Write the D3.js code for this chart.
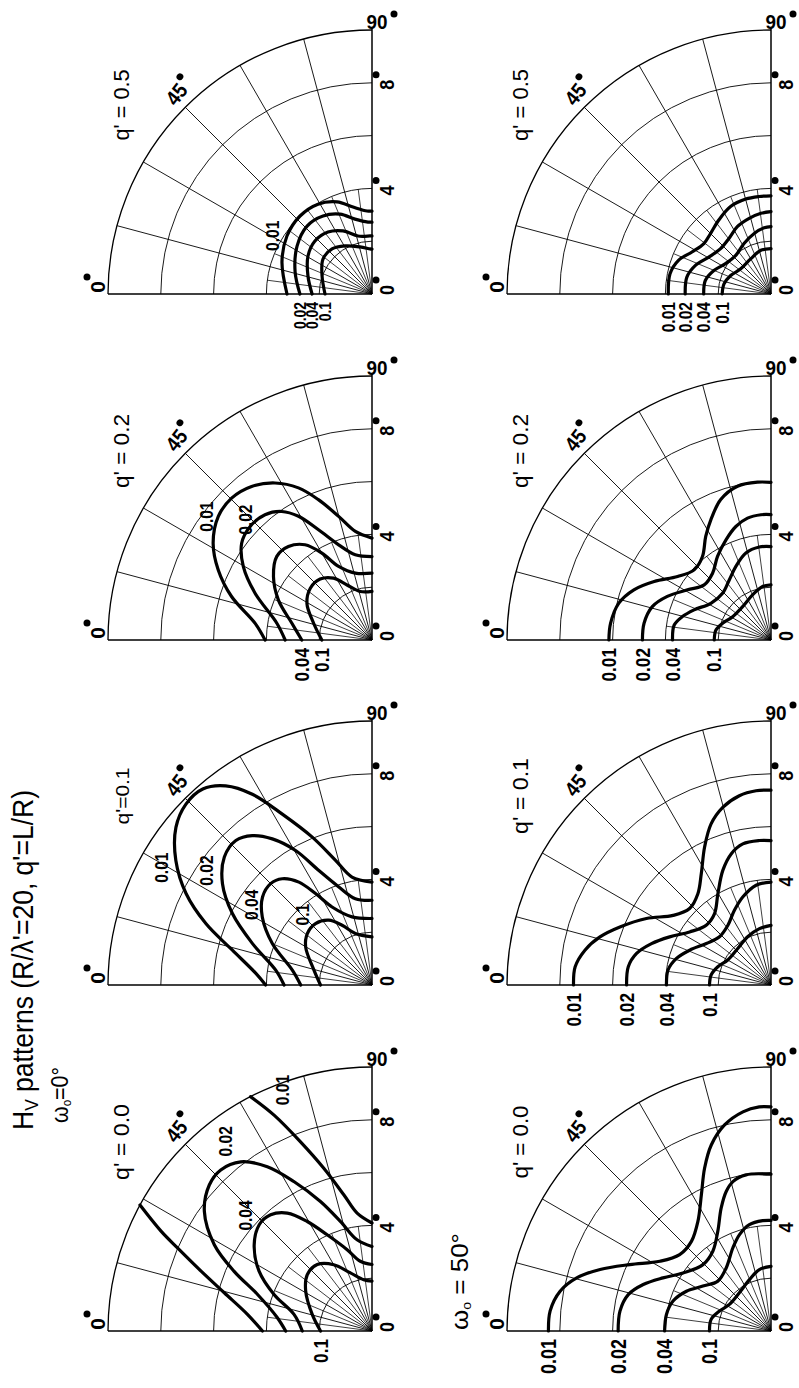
<!DOCTYPE html>
<html>
<head>
<meta charset="utf-8">
<script src="https://cdn.jsdelivr.net/npm/d3@7/dist/d3.min.js"></script>
<style>
html,body{margin:0;padding:0;background:#fff;}
svg{display:block;}
text{font-family:"Liberation Sans",Arial,sans-serif;fill:#000;}
.grid{fill:none;stroke:#000;stroke-width:0.9;}
.fine{fill:none;stroke:#000;stroke-width:0.75;}
.outer{fill:none;stroke:#000;stroke-width:1.3;}
.axis{fill:none;stroke:#000;stroke-width:1.5;}
.curve{fill:none;stroke:#000;stroke-width:3.2;stroke-linecap:round;stroke-linejoin:round;}
</style>
</head>
<body>
<svg id="chart" width="799" height="1388" viewBox="0 0 799 1388"></svg>
<script>
// ---------------- categories / ticks ----------------
const contourLevels = ["0.01", "0.02", "0.04", "0.1"];
const qPrimeValues = ["0.0", "0.1", "0.2", "0.5"];
const omegaValues = ["0°", "50°"];
const radialTicks = [0, 4, 8];
const gridRadii = [2, 4, 6, 8, 10];
const spokeAngles = [15, 30, 45, 60, 75];
const fineSpokeAngles = [7.5, 22.5, 37.5, 52.5, 67.5, 82.5];
const fineSpokeLength = 4;

// ---------------- series: [theta (deg), r] per contour level ----------------
// omega0 = 0°
const hv_w0_q00 = [
  [[0,4.15],[7.6,4.76],[14.5,5.78],[19.3,6.86],[23.1,8.0],[25.3,8.83],[28.5,10.0],null,[62.6,10.0],[65.6,8.98],[69.3,7.66],[73.5,6.43],[78.3,5.27],[82.8,4.5],[90,4.09]],
  [[0,3.27],[8,3.62],[17.7,4.55],[23.4,5.69],[28.7,6.81],[35.5,7.8],[41.9,8.28],[46.8,8.37],[52.2,8.11],[57.5,7.38],[62.4,6.39],[68.3,5.28],[73.9,4.32],[80.7,3.5],[90,3.2]],
  [[0,2.64],[12,3.02],[20.4,3.96],[27.9,4.84],[36.2,5.53],[43.3,5.87],[48.9,5.84],[54.3,5.5],[59.4,4.82],[65,4.02],[73,3.22],[80.5,2.68],[90,2.52]],
  [[0,1.95],[15.5,2.35],[31,2.93],[41,3.25],[50.5,3.26],[60,2.9],[69.6,2.35],[80.8,1.97],[90,1.89]]
];
const hv_w0_q01 = [
  [[0,4.03],[5.7,4.42],[14,5.45],[20.3,6.71],[26.2,7.85],[32.4,8.8],[38.8,9.53],[44.2,9.83],[49.2,9.81],[53.7,9.36],[57.9,8.53],[62.3,7.31],[68,6.04],[73.7,4.92],[79.5,4.16],[90,3.9]],
  [[0,3.33],[8.8,3.69],[19.1,4.79],[27.1,5.94],[34.1,6.84],[40.9,7.4],[46.7,7.52],[51.3,7.25],[55.7,6.7],[60.4,5.86],[65.1,4.78],[71.3,3.92],[79.1,3.33],[90,3.21]],
  [[0,2.7],[10.6,3.07],[22.6,4.09],[31.8,4.89],[38.8,5.32],[45,5.43],[49.8,5.27],[54.6,4.78],[58.3,4.07],[62.9,3.32],[73.7,2.69],[90,2.52]],
  [[0,1.95],[14.4,2.27],[29.9,2.9],[38.5,3.13],[47.4,3.16],[56.3,2.95],[63.4,2.53],[72.1,2.05],[90,1.82]]
];
const hv_w0_q02 = [
  [[0,4.05],[8.1,4.47],[17.2,5.57],[24.5,6.4],[31.4,7.05],[38.8,7.47],[45.3,7.56],[51.9,7.39],[58.3,6.99],[64.2,6.4],[69.1,5.69],[74.9,4.85],[81.3,4.16],[90,3.86]],
  [[0,3.29],[10,3.66],[21.8,4.77],[29.7,5.61],[36.6,6.15],[43,6.31],[49.5,6.24],[54.9,5.95],[59.3,5.45],[64.1,4.64],[70.7,3.82],[78.9,3.29],[90,3.16]],
  [[0,2.66],[11.8,3.1],[23.2,3.86],[32.8,4.44],[41.3,4.8],[48.2,4.75],[54.9,4.41],[60,3.8],[65.6,3.06],[76,2.61],[90,2.53]],
  [[0,1.9],[16,2.3],[29.4,2.83],[40,3.05],[49.6,3.03],[58.1,2.76],[65.6,2.29],[76.4,1.89],[90,1.84]]
];
const hv_w0_q05 = [
  [[0,3.22],[19.6,3.62],[34.3,3.9],[47.3,4.02],[59,3.97],[69.2,3.73],[77.7,3.37],[86.6,3.15],[90,3.14]],
  [[0,2.73],[16,3.03],[32.6,3.37],[46.3,3.56],[57.9,3.49],[68.2,3.26],[77.2,2.91],[86.8,2.73],[90,2.72]],
  [[0,2.27],[15.7,2.52],[30.7,2.82],[42.9,2.95],[54.6,2.88],[65.3,2.63],[76.4,2.26],[88,2.2],[90,2.2]],
  [[0,1.78],[19.8,2.01],[35.5,2.28],[48.4,2.28],[60.6,2.09],[75.7,1.84],[87.5,1.71],[90,1.7]]
];
// omega0 = 50°
const hv_w50_q00 = [
  [[0,8.43],[5.2,8.4],[10.7,8.13],[15.3,7.63],[19.8,6.88],[25.2,5.91],[32.1,4.97],[39.9,4.51],[48.4,4.54],[56.3,4.99],[62.9,5.79],[67.8,6.66],[72.2,7.4],[77.3,8.0],[82.7,8.37],[87,8.5],[90,8.49]],
  [[0,5.79],[7.5,5.77],[14.3,5.58],[20,5.15],[26.2,4.56],[33.4,3.99],[44.3,3.6],[53.9,3.74],[61.9,4.28],[67.9,5.02],[72.2,5.55],[75.7,5.84],[80.9,5.99],[90,5.94]],
  [[0,4.03],[9,4.01],[17,3.88],[25.2,3.54],[33.4,3.09],[43.2,2.76],[54.6,2.93],[65.3,3.46],[71.9,3.84],[78.5,4.11],[85.7,4.19],[90,4.19]],
  [[0,2.33],[11,2.31],[21.2,2.09],[32.6,1.87],[50.4,1.88],[67.2,2.11],[79.3,2.37],[90,2.45]]
];
const hv_w50_q01 = [
  [[0,7.48],[5.3,7.45],[10.6,7.17],[15.7,6.73],[21,6.13],[28.1,5.35],[35.4,4.55],[43.2,4.23],[51.3,4.43],[57.9,4.97],[64.3,5.8],[69.6,6.51],[74.8,6.97],[80.5,7.27],[85.6,7.38],[90,7.38]],
  [[0,5.47],[7.3,5.45],[13.2,5.23],[19.1,4.79],[25.4,4.25],[33.1,3.68],[42.7,3.34],[51.7,3.45],[59.8,4.0],[67.2,4.71],[73.1,5.19],[78.7,5.45],[85.4,5.49],[90,5.47]],
  [[0,3.96],[8.3,3.94],[15.7,3.72],[23.2,3.35],[32.7,2.91],[43.1,2.67],[54.2,2.79],[63.9,3.15],[72.2,3.5],[81.5,3.82],[90,3.9]],
  [[0,2.33],[9.5,2.3],[19,2.13],[30,1.89],[47.7,1.87],[64.2,2.03],[78.4,2.18],[90,2.26]]
];
const hv_w50_q02 = [
  [[0,6.14],[5.9,6.11],[13.6,5.93],[20.1,5.53],[26.6,4.95],[34.2,4.28],[42.4,3.94],[50.6,4.09],[57.8,4.64],[63.4,5.09],[70.3,5.65],[77.7,5.96],[85.2,6.0],[90,5.97]],
  [[0,4.87],[7.5,4.85],[15.7,4.67],[22.8,4.26],[31,3.69],[39.5,3.28],[48.8,3.36],[57.4,3.76],[65.8,4.16],[72.8,4.5],[79.1,4.7],[85.4,4.76],[90,4.75]],
  [[0,3.73],[8.8,3.71],[14.8,3.47],[21.4,3.13],[31.4,2.67],[44,2.55],[55.2,2.77],[64.5,3.09],[73.9,3.43],[82.8,3.55],[90,3.54]],
  [[0,2.15],[10.3,2.12],[19,1.94],[31.3,1.7],[49.6,1.66],[67.8,1.85],[81.1,2.05],[90,2.09]]
];
const hv_w50_q05 = [
  [[0,3.89],[11.3,3.9],[20,3.73],[28,3.39],[36.9,3.18],[45,3.24],[54.8,3.43],[65.2,3.65],[75.1,3.72],[83.1,3.72],[90,3.72]],
  [[0,3.25],[11.3,3.25],[20.7,3.06],[30.7,2.74],[42,2.57],[52.9,2.64],[63.4,2.85],[73.9,2.98],[82.9,3.08],[90,3.12]],
  [[0,2.55],[11.6,2.54],[22.4,2.34],[33.7,2.07],[47.6,1.98],[61.9,2.17],[74.5,2.38],[84.2,2.52],[90,2.55]],
  [[0,1.85],[12.1,1.82],[24.6,1.68],[39.8,1.49],[60.3,1.54],[77,1.7],[90,1.72]]
];

// ---------------- layout (positions / styles) ----------------
const panels = [
  {w:0, q:0, curves:hv_w0_q00, inside:{0:[69.7,9.73],1:[52.3,9.08],2:[42.4,6.49]}, axis:[3], axisFont:21, qFont:22, qLen:76},
  {w:0, q:1, curves:hv_w0_q01, inside:{0:[29.1,9.14],1:[34.6,7.63],2:[33.7,5.48],3:[45.4,3.74]}, axis:[], axisFont:21, qFont:19, qLen:57},
  {w:0, q:2, curves:hv_w0_q02, inside:{0:[36.7,7.82],1:[43.6,6.61]}, axis:[2,3], axisFont:21, qFont:22, qLen:74},
  {w:0, q:3, curves:hv_w0_q05, inside:{0:[30.4,4.36]}, axis:[1,2,3], axisFont:17, qFont:22, qLen:71},
  {w:1, q:0, curves:hv_w50_q00, inside:{}, axis:[0,1,2,3], axisFont:22, qFont:22, qLen:73},
  {w:1, q:1, curves:hv_w50_q01, inside:{}, axis:[0,1,2,3], axisFont:21, qFont:22, qLen:76},
  {w:1, q:2, curves:hv_w50_q02, inside:{}, axis:[0,1,2,3], axisFont:21, qFont:22, qLen:74},
  {w:1, q:3, curves:hv_w50_q05, inside:{}, axis:[0,1,2,3], axisFont:19, qFont:22, qLen:72}
];
const colU = [57, 403, 748, 1094];   // origin along the (rotated) horizontal
const rowV = [372, 771];             // origin along the (rotated) vertical

// ---------------- scales ----------------
const r = d3.scaleLinear().domain([0, 10]).range([0, 264]);
const ang = d3.scaleLinear().domain([0, 90]).range([0, Math.PI / 2]);
const pt = (th, v) => [r(v) * Math.sin(ang(th)), -r(v) * Math.cos(ang(th))];

const radial = d3.lineRadial()
  .defined(d => d !== null)
  .angle(d => ang(d[0]))
  .radius(d => r(d[1]))
  .curve(d3.curveCatmullRom.alpha(0.5));

const svg = d3.select("#chart");
svg.append("rect").attr("width", 799).attr("height", 1388).attr("fill", "#fff");
// The page is drawn in reading orientation, then turned a quarter turn.
const root = svg.append("g").attr("transform", "translate(0,1388) rotate(-90)");

function label(parent, x, y, str, size, opt = {}) {
  const t = parent.append("text")
    .attr("transform", `translate(${x},${y})${opt.rotate ? ` rotate(${opt.rotate})` : ""} scale(${opt.sx || 0.82},1)`)
    .attr("font-size", size)
    .attr("font-weight", opt.weight || "bold")
    .attr("text-anchor", opt.anchor || "middle")
    .attr("dominant-baseline", opt.baseline || "auto")
    .text(str);
  return t;
}

panels.forEach(p => {
  const g = root.append("g").attr("transform", `translate(${colU[p.q]},${rowV[p.w]})`);

  // fine spokes near the origin
  fineSpokeAngles.forEach(a => {
    const [x, y] = pt(a, fineSpokeLength);
    g.append("line").attr("class", "fine").attr("x1", 0).attr("y1", 0).attr("x2", x).attr("y2", y);
  });
  // main spokes
  spokeAngles.forEach(a => {
    const [x, y] = pt(a, 10);
    g.append("line").attr("class", "grid").attr("x1", 0).attr("y1", 0).attr("x2", x).attr("y2", y);
  });
  // circles
  gridRadii.forEach(v => {
    const pa = d3.path();
    pa.moveTo(0, -r(v));
    pa.arc(0, 0, r(v), -Math.PI / 2, 0);
    g.append("path").attr("class", v === 10 ? "outer" : "grid").attr("d", pa.toString());
  });
  // axes
  g.append("line").attr("class", "axis").attr("x1", 0).attr("y1", 0).attr("x2", 0).attr("y2", -r(10));
  g.append("line").attr("class", "axis").attr("x1", 0).attr("y1", 0).attr("x2", r(10.1)).attr("y2", 0);

  // contour curves
  p.curves.forEach(c => g.append("path").attr("class", "curve").attr("d", radial(c)));

  // radial tick labels (0, 4, 8) with dots
  radialTicks.forEach(t => {
    const cx = r(t) + (t === 0 ? 4 : -2);
    label(g, cx, 22, String(t), 20, {sx: 0.9});
    g.append("circle").attr("cx", cx + 10).attr("cy", 4).attr("r", 3.5).attr("fill", "#000");
  });

  // angle labels
  label(g, 7, -267, "0", 21, {sx: 1});
  g.append("circle").attr("cx", 17).attr("cy", -285).attr("r", 3.5).attr("fill", "#000");

  const g90 = g.append("g").attr("transform", `translate(${r(10) + 1},5) rotate(90)`);
  label(g90, 0, 0, "90", 21, {sx: 0.9});
  g90.append("circle").attr("cx", 17).attr("cy", -15).attr("r", 3.5).attr("fill", "#000");

  const [x45, y45] = pt(46, 10.6);
  const g45 = g.append("g").attr("transform", `translate(${x45},${y45}) rotate(38)`);
  label(g45, -2, 0, "45", 21, {baseline: "central", sx: 0.9});
  g45.append("circle").attr("cx", 14).attr("cy", -8).attr("r", 3.4).attr("fill", "#000");

  // q' panel label
  g.append("text")
    .attr("x", 189).attr("y", -243)
    .attr("font-size", p.qFont)
    .attr("text-anchor", "middle")
    .attr("textLength", p.qLen).attr("lengthAdjust", "spacingAndGlyphs")
    .text(p.q === 1 && p.w === 0 ? "q'=" + qPrimeValues[p.q] : "q' = " + qPrimeValues[p.q]);

  // contour labels along the 0° axis
  p.axis.forEach(i => {
    const r0 = p.curves[i][0][1];
    label(g, -8, -r(r0), contourLevels[i], p.axisFont, {anchor: "end", baseline: "central"});
  });
  // contour labels inside the plot
  Object.entries(p.inside).forEach(([i, pos]) => {
    const [x, y] = pt(pos[0], pos[1]);
    label(g, x, y, contourLevels[+i], 19, {baseline: "central"});
  });
});

// ---------------- titles ----------------
const title = root.append("text").attr("x", 258).attr("y", 33).attr("font-size", 29)
  .attr("textLength", 340).attr("lengthAdjust", "spacingAndGlyphs");
title.append("tspan").text("H");
title.append("tspan").attr("font-size", 19).attr("dy", 5).text("V");
title.append("tspan").attr("dy", -5).text(" patterns (R/λ'=20, q'=L/R)");

function omegaLabel(x, y, value, len, spaced) {
  const t = root.append("text").attr("x", x).attr("y", y).attr("font-size", 24)
    .attr("textLength", len).attr("lengthAdjust", "spacingAndGlyphs");
  t.append("tspan").text("ω");
  t.append("tspan").attr("font-size", 13).attr("dy", 3).text("o");
  t.append("tspan").attr("dy", -3).text(spaced ? " = " + value : "=" + value);
}
omegaLabel(265, 68, omegaValues[0], 56, false);
omegaLabel(58, 468, omegaValues[1], 97, true);
</script>
</body>
</html>
